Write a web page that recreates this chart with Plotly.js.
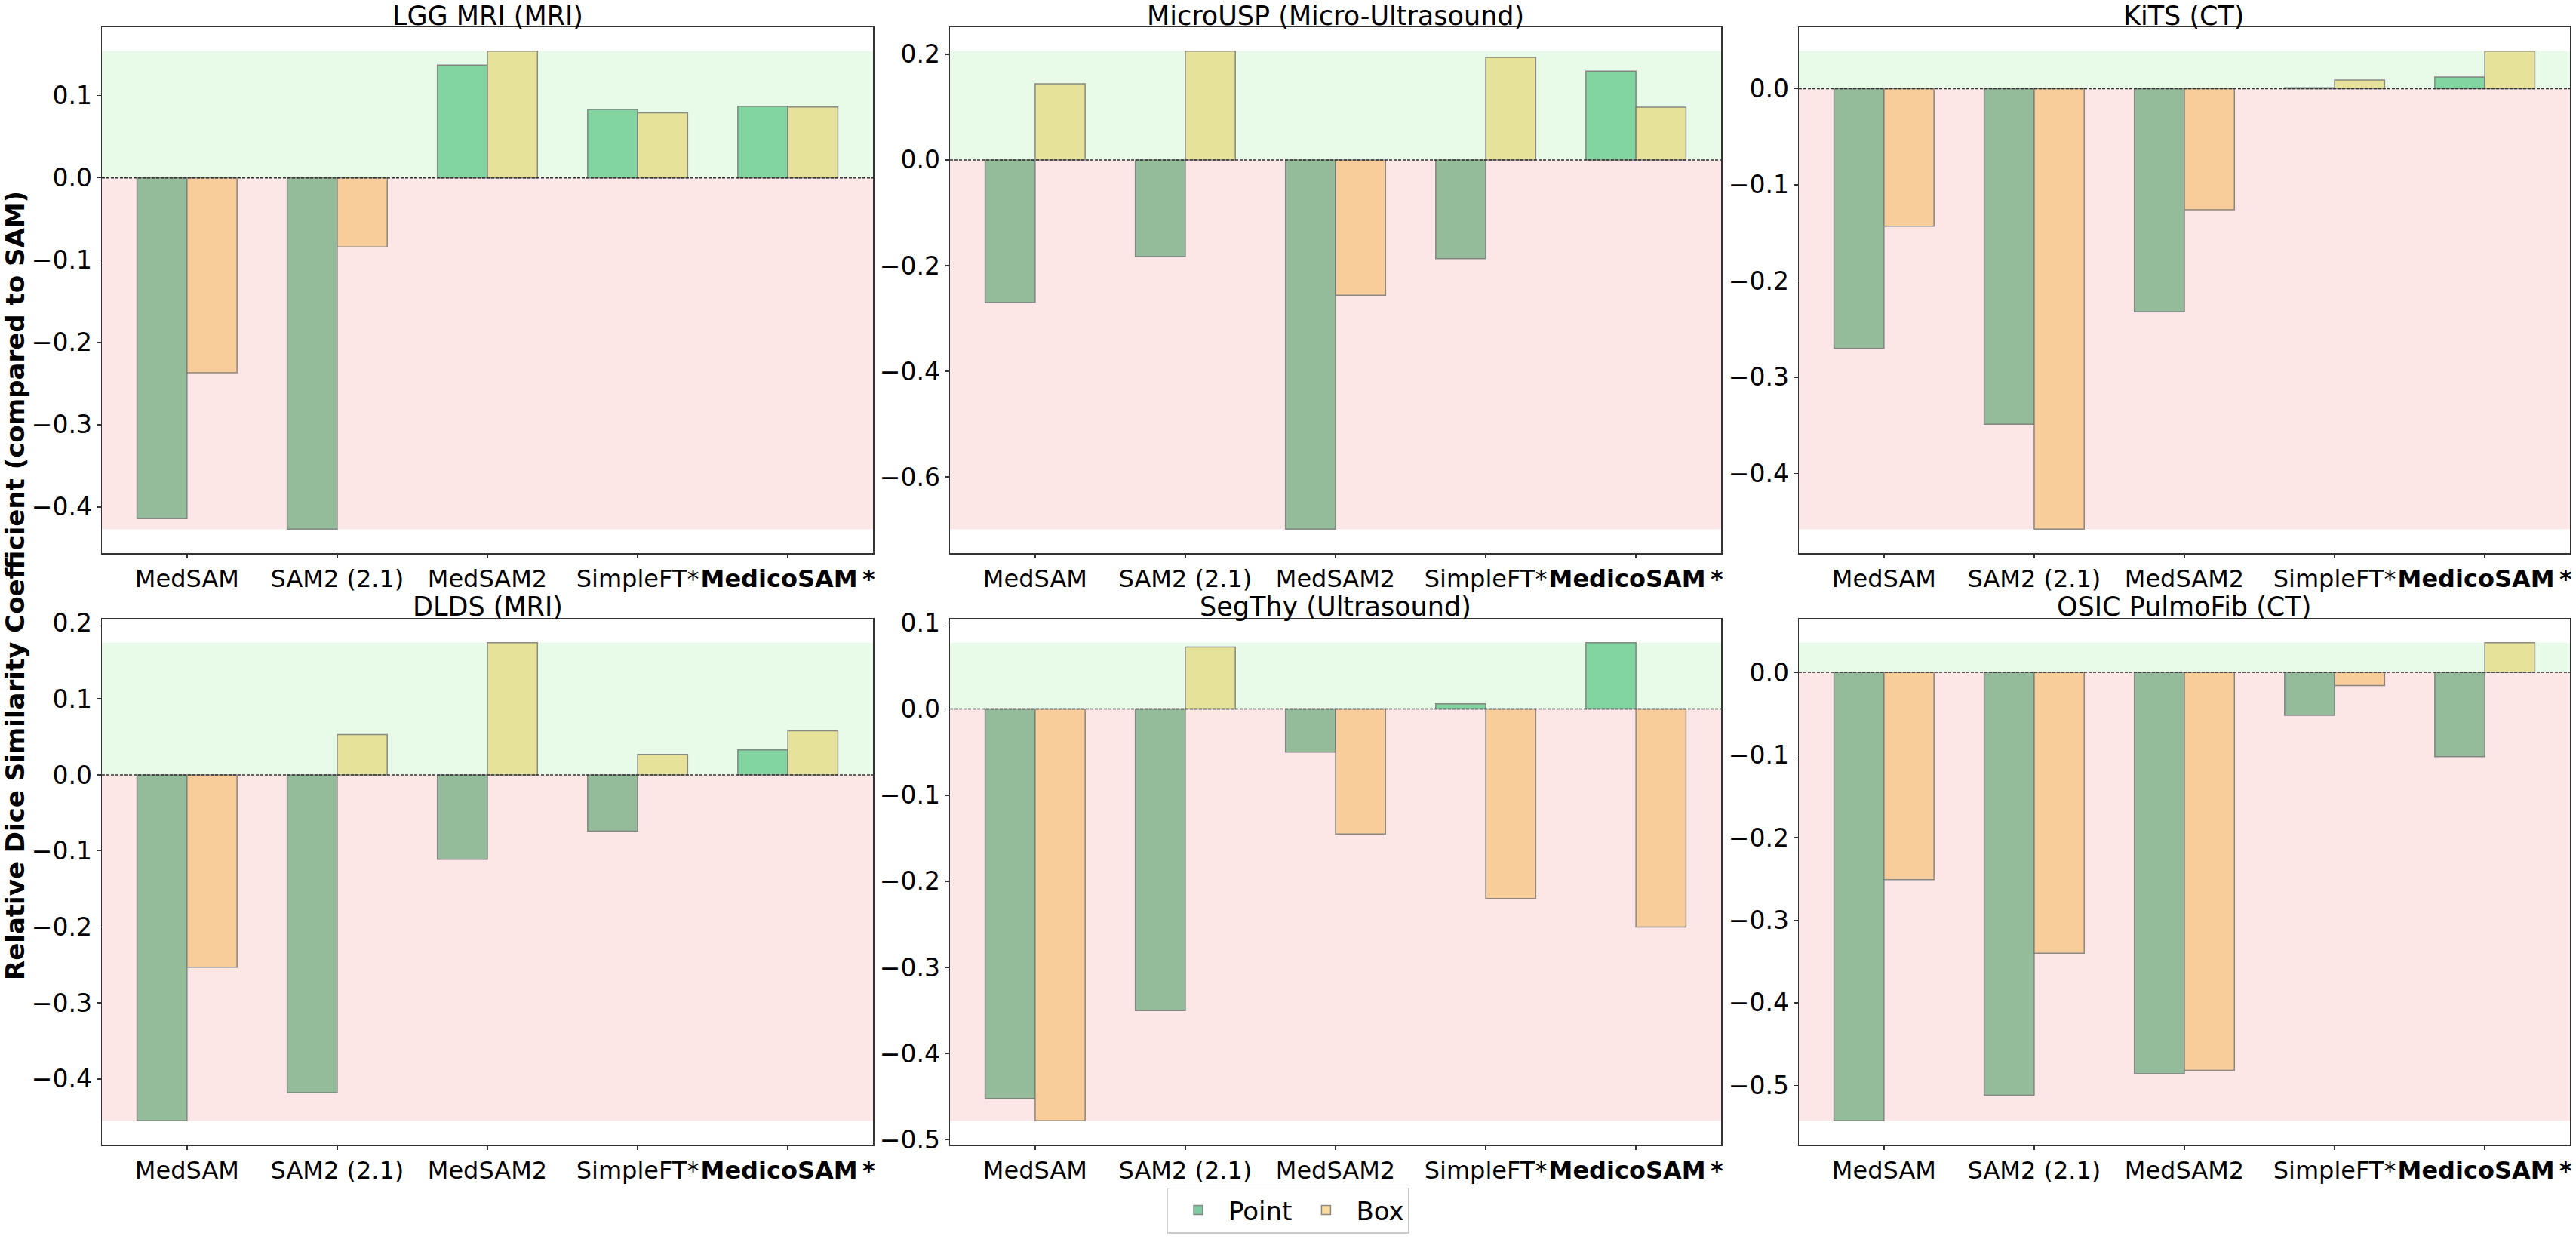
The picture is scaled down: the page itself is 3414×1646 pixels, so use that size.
<!DOCTYPE html>
<html><head><meta charset="utf-8">
<script src="https://cdn.plot.ly/plotly-3.0.1.min.js"></script>
<style>html,body{margin:0;padding:0;background:#fff}#chart{width:3414px;height:1646px}</style>
</head><body><div id="chart"></div>
<script>
// ---- data ----
const models = ['MedSAM', 'SAM2 (2.1)', 'MedSAM2', 'SimpleFT*', '<b>MedicoSAM\u2009*</b>'];
const datasets = ['LGG MRI (MRI)', 'MicroUSP (Micro-Ultrasound)', 'KiTS (CT)',
                  'DLDS (MRI)', 'SegThy (Ultrasound)', 'OSIC PulmoFib (CT)'];
const seriesNames = ['Point', 'Box'];

const lggPoint      = [-0.414, -0.427, 0.137, 0.083, 0.087];
const lggBox        = [-0.237, -0.084, 0.154, 0.079, 0.086];
const microuspPoint = [-0.270, -0.183, -0.699, -0.187, 0.168];
const microuspBox   = [0.144, 0.206, -0.256, 0.194, 0.100];
const kitsPoint     = [-0.270, -0.349, -0.232, 0.001, 0.012];
const kitsBox       = [-0.143, -0.458, -0.126, 0.009, 0.039];
const dldsPoint     = [-0.455, -0.418, -0.111, -0.074, 0.033];
const dldsBox       = [-0.253, 0.053, 0.174, 0.027, 0.058];
const segthyPoint   = [-0.452, -0.350, -0.050, 0.006, 0.077];
const segthyBox     = [-0.478, 0.072, -0.145, -0.220, -0.253];
const osicPoint     = [-0.543, -0.512, -0.486, -0.052, -0.102];
const osicBox       = [-0.251, -0.340, -0.482, -0.016, 0.036];

const pointSets = [lggPoint, microuspPoint, kitsPoint, dldsPoint, segthyPoint, osicPoint];
const boxSets   = [lggBox, microuspBox, kitsBox, dldsBox, segthyBox, osicBox];
const yTickSteps = [0.1, 0.2, 0.1, 0.1, 0.1, 0.1];

// ---- style ----
const FONT = 'DejaVu Sans, Liberation Sans, sans-serif';
const W = 3414, H = 1646;
const TICK = 32, TITLE = 35;
const colPointPos = '#82d4a0', colPointNeg = '#94bc9b';
const colBoxPos = '#e6e29a', colBoxNeg = '#f9cd99';
const legPoint = '#7ecba1', legBox = '#fbdc9c';
const shadeGreen = '#e8fae8', shadePink = '#fce6e6';

const xDomains = [[135/W, 1157/W], [1259/W, 2281/W], [2384/W, 3406/W]];
const yDomains = [[1-733/H, 1-36/H], [1-1517/H, 1-820/H]];
const titleCenters = [21, 804];

const traces = [];
const layout = {
  width: W, height: H,
  margin: {l: 0, r: 0, t: 0, b: 0},
  paper_bgcolor: '#ffffff', plot_bgcolor: 'rgba(0,0,0,0)',
  font: {family: FONT, size: TICK, color: '#000'},
  barmode: 'group', bargap: 0.334, bargroupgap: 0,
  showlegend: true,
  legend: {orientation: 'h', x: 0.5, xanchor: 'center', y: 1-1604/H, yanchor: 'middle',
           font: {family: FONT, size: 34, color: '#000'}, bgcolor: '#fff',
           bordercolor: '#cccccc', borderwidth: 1.5, itemwidth: 70, tracegroupgap: 0},
  shapes: [], annotations: []
};

const edge = {color: 'rgba(120,120,120,0.85)', width: 1.5};

for (let i = 0; i < 6; i++) {
  const row = Math.floor(i / 3), col = i % 3;
  const sfx = i === 0 ? '' : String(i + 1);
  const xa = 'x' + sfx, ya = 'y' + sfx;
  const pts = pointSets[i], bxs = boxSets[i];
  traces.push({
    type: 'bar', x: models, y: pts, xaxis: xa, yaxis: ya, name: seriesNames[0],
    offsetgroup: 'p', showlegend: false,
    marker: {color: pts.map(v => v >= 0 ? colPointPos : colPointNeg), line: edge}
  });
  traces.push({
    type: 'bar', x: models, y: bxs, xaxis: xa, yaxis: ya, name: seriesNames[1],
    offsetgroup: 'b', showlegend: false,
    marker: {color: bxs.map(v => v >= 0 ? colBoxPos : colBoxNeg), line: edge}
  });
  const all = pts.concat(bxs);
  const vmax = Math.max(0, ...all), vmin = Math.min(0, ...all);
  const pad = 0.05 * (vmax - vmin);
  layout['xaxis' + sfx] = {
    domain: xDomains[col], anchor: ya, type: 'category',
    range: [-0.567, models.length - 1 + 0.567],
    showline: true, mirror: true, linecolor: '#333', linewidth: 1.5,
    ticks: 'outside', ticklen: 5, tickwidth: 1.5, tickcolor: '#333', tickangle: 0,
    showgrid: false, zeroline: false,
    tickfont: {family: FONT, size: TICK, color: '#000'}
  };
  layout['yaxis' + sfx] = {
    domain: yDomains[row], anchor: xa,
    range: [vmin - pad, vmax + pad],
    tick0: 0, dtick: yTickSteps[i], tickformat: '.1f',
    showline: true, mirror: true, linecolor: '#333', linewidth: 1.5,
    ticks: 'outside', ticklen: 5, tickwidth: 1.5, tickcolor: '#333',
    showgrid: false, zeroline: false,
    tickfont: {family: FONT, size: 33, color: '#000'}
  };
  layout.shapes.push({type: 'rect', xref: xa + ' domain', yref: ya, x0: 0, x1: 1, y0: 0, y1: vmax,
    fillcolor: shadeGreen, line: {width: 0}, layer: 'below'});
  layout.shapes.push({type: 'rect', xref: xa + ' domain', yref: ya, x0: 0, x1: 1, y0: vmin, y1: 0,
    fillcolor: shadePink, line: {width: 0}, layer: 'below'});
  layout.shapes.push({type: 'line', xref: xa + ' domain', yref: ya, x0: 0, x1: 1, y0: 0, y1: 0,
    line: {color: '#333', width: 1.5, dash: '4px,2px'}, layer: 'above'});
  layout.annotations.push({
    text: datasets[i], xref: 'paper', yref: 'paper',
    x: (xDomains[col][0] + xDomains[col][1]) / 2, y: 1 - titleCenters[row] / H,
    xanchor: 'center', yanchor: 'middle', showarrow: false,
    font: {family: FONT, size: TITLE, color: '#000'}
  });
}

// legend entries (no visible bars)
traces.push({type: 'bar', x: [models[0]], y: [null], xaxis: 'x', yaxis: 'y', name: seriesNames[0],
  offsetgroup: 'p', marker: {color: legPoint, line: edge}, showlegend: true});
traces.push({type: 'bar', x: [models[0]], y: [null], xaxis: 'x', yaxis: 'y', name: seriesNames[1],
  offsetgroup: 'b', marker: {color: legBox, line: edge}, showlegend: true});

layout.annotations.push({
  text: '<b>Relative Dice Similarity Coefficient (compared to SAM)</b>',
  xref: 'paper', yref: 'paper', x: 20 / W, y: 1 - 776 / H,
  xanchor: 'center', yanchor: 'middle', textangle: -90, showarrow: false,
  font: {family: FONT, size: 34, color: '#000'}
});

Plotly.newPlot('chart', traces, layout, {displayModeBar: false, staticPlot: true});
</script>
</body></html>
